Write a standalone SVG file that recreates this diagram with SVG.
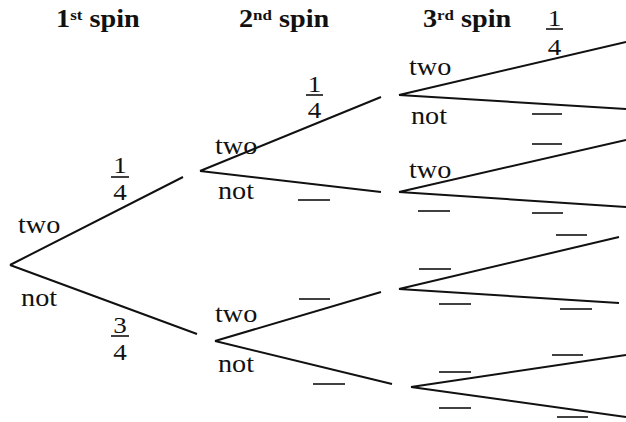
<svg xmlns="http://www.w3.org/2000/svg" width="626" height="422" viewBox="0 0 626 422">
<style>
.br{stroke:#111;stroke-width:2;fill:none;stroke-linecap:butt}
.bar{stroke:#111;stroke-width:1.6}
text{font-family:"Liberation Serif","Times New Roman",serif;font-size:25px;fill:#111}
.h{font-weight:bold}
.sup{font-size:15px}
.f{text-anchor:middle;font-size:24px}
</style>
<rect width="626" height="422" fill="#fff"/>
<g id="connectors">
<path class="br" d="M10,265 L183,177 M10,265 L197,334"/>
<path class="br" d="M200,171 L381,97 M200,171 L381,192"/>
<path class="br" d="M215,341 L381,292 M215,341 L392,384"/>
<path class="br" d="M399,95 L626,42 M399,95 L626,109"/>
<path class="br" d="M399,192 L626,140 M399,192 L626,207"/>
<path class="br" d="M399,289 L619,237 M399,289 L619,303"/>
<path class="br" d="M411,387 L626,355 M411,387 L626,417"/>
</g>
<g id="fraction-bars">
<line class="bar" x1="111" y1="177" x2="129" y2="177"/>
<line class="bar" x1="111" y1="336" x2="129" y2="336"/>
<line class="bar" x1="306" y1="95" x2="323" y2="95"/>
<line class="bar" x1="546" y1="29" x2="563" y2="29"/>
<line class="bar" x1="532" y1="114" x2="562" y2="114"/>
<line class="bar" x1="532" y1="144" x2="562" y2="144"/>
<line class="bar" x1="298" y1="200" x2="330" y2="200"/>
<line class="bar" x1="418" y1="211" x2="450" y2="211"/>
<line class="bar" x1="532" y1="213" x2="563" y2="213"/>
<line class="bar" x1="556" y1="235" x2="587" y2="235"/>
<line class="bar" x1="419" y1="269" x2="451" y2="269"/>
<line class="bar" x1="299" y1="299" x2="330" y2="299"/>
<line class="bar" x1="439" y1="304" x2="471" y2="304"/>
<line class="bar" x1="560" y1="309" x2="592" y2="309"/>
<line class="bar" x1="552" y1="355" x2="583" y2="355"/>
<line class="bar" x1="439" y1="372" x2="471" y2="372"/>
<line class="bar" x1="313" y1="384" x2="345" y2="384"/>
<line class="bar" x1="439" y1="408" x2="471" y2="408"/>
<line class="bar" x1="557" y1="417" x2="588" y2="417"/>
</g>
<g id="texts" transform="scale(1.13,1)">
<g id="headers">
<text class="h" x="49.6" y="27">1<tspan class="sup" dy="-7">st</tspan><tspan dy="7"> spin</tspan></text>
<text class="h" x="211.5" y="27">2<tspan class="sup" dy="-7">nd</tspan><tspan dy="7"> spin</tspan></text>
<text class="h" x="374.3" y="27">3<tspan class="sup" dy="-7">rd</tspan><tspan dy="7"> spin</tspan></text>
</g>
<g id="node-root">
<text x="15.9" y="233">two</text>
<text x="18.6" y="306">not</text>
</g>
<g id="node-2a">
<text x="190.3" y="154">two</text>
<text x="192.9" y="199">not</text>
</g>
<g id="node-2b">
<text x="190.3" y="322">two</text>
<text x="192.9" y="372">not</text>
</g>
<g id="node-3a">
<text x="361.9" y="75">two</text>
<text x="363.7" y="124">not</text>
</g>
<g id="node-3b">
<text x="361.9" y="178">two</text>
</g>
<g id="fractions">
<text class="f" x="106.2" y="173">1</text>
<text class="f" x="106.2" y="200">4</text>
<text class="f" x="106.2" y="333">3</text>
<text class="f" x="106.2" y="360">4</text>
<text class="f" x="278.3" y="92">1</text>
<text class="f" x="278.3" y="118">4</text>
<text class="f" x="490.7" y="26">1</text>
<text class="f" x="490.7" y="55">4</text>
</g>
</g>
</svg>
